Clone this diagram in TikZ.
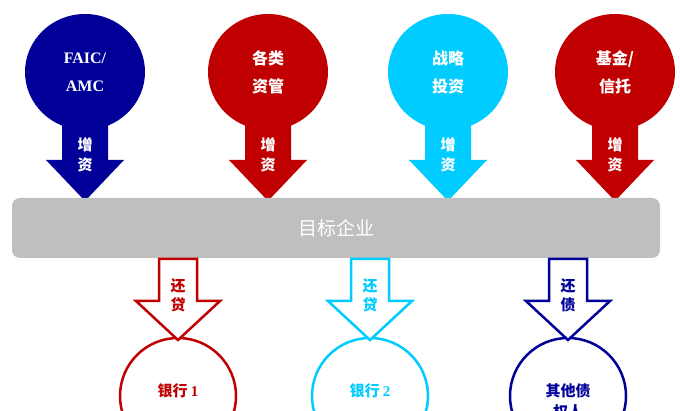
\documentclass[tikz,border=0pt]{standalone}
\usepackage{fontspec}
\setmainfont{Liberation Serif}
\newfontfamily\cjk{Noto Sans CJK SC}
\definecolor{dblue}{HTML}{000099}
\definecolor{dred}{HTML}{C00000}
\definecolor{cyan2}{HTML}{00CCFF}
\definecolor{bar}{HTML}{BFBFBF}
\tikzset{
 topc/.style={ellipse, minimum width=120pt, minimum height=116pt, inner sep=0pt, text=white, font=\bfseries\cjk\fontsize{16}{28}\selectfont, align=center},
 lbl/.style={text=white, font=\bfseries\cjk\fontsize{15}{20}\selectfont, align=center},
 botc/.style={circle, line width=2.5pt, minimum size=116pt, inner sep=0pt, fill=white},
 blbl/.style={font=\bfseries\cjk\fontsize{15}{21}\selectfont, align=center}
}
\usetikzlibrary{shapes.geometric}
\begin{document}
\begin{tikzpicture}[x=1pt,y=-1pt]
\useasboundingbox (0,0) rectangle (680,411);
% top
\foreach \x/\c/\t [count=\i] in {85/dblue/{\rmfamily FAIC/\\\rmfamily AMC},268/dred/{各类\\资管},448/cyan2/{战略\\投资},615/dred/{基金/\\信托}}{
 \node[topc, fill=\c] (t\i) at (\x,72) {\t};
 \fill[\c] (\x-23,118) -- (\x+23,118) -- (\x+23,160) -- (\x+39,160) -- (\x,201) -- (\x-39,160) -- (\x-23,160) -- cycle;
 \node[lbl] (a\i) at (\x,155) {增\\资};
}
\node[fill=bar, rounded corners=8pt, minimum width=648pt, minimum height=60pt, text=white, font=\cjk\fontsize{19}{22}\selectfont] (bar) at (336,228) {目标企业};
% bottom
\foreach \x/\c/\t/\s [count=\i] in {178/dred/{银行 \rmfamily 1}/{还\\贷},370/cyan2/{银行 \rmfamily 2}/{还\\贷},568/dblue/{其他债\\权人}/{还\\债}}{
 \node[botc, draw=\c] (b\i) at (\x,396) {};
 \node[blbl, text=\c, anchor=north] (bt\i) at (\x,380) {\t};
 \draw[\c, line width=2.5pt, fill=white, line join=miter] (\x-19,259) -- (\x+19,259) -- (\x+19,301) -- (\x+42,301) -- (\x,340) -- (\x-42,301) -- (\x-19,301) -- cycle;
 \node[blbl, text=\c, font=\bfseries\cjk\fontsize{15}{19}\selectfont] (s\i) at (\x,295) {\s};
}
\end{tikzpicture}
\end{document}
